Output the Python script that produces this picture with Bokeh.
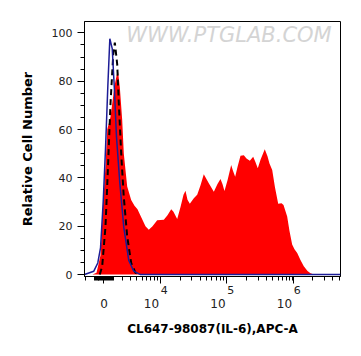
import numpy as np
from bokeh.plotting import figure
from bokeh.models import FixedTicker, Label, Range1d, LinearAxis
from bokeh.embed import file_html
from bokeh.resources import INLINE

# x values are in display (biexponential) units: 0 -> 3.15, 10^4 -> 4, 10^5 -> 5, 10^6 -> 6
red_x = [2.977, 3.038, 3.098, 3.138, 3.173, 3.199, 3.248, 3.274, 3.308, 3.358,
         3.388, 3.424, 3.448, 3.499, 3.559, 3.609, 3.654, 3.714, 3.774, 3.824,
         3.880, 3.950, 4.050, 4.105, 4.161, 4.195, 4.251, 4.301, 4.346, 4.376,
         4.406, 4.441, 4.501, 4.552, 4.602, 4.651, 4.722, 4.802, 4.857, 4.902,
         4.932, 4.962, 5.008, 5.063, 5.090, 5.123, 5.158, 5.203, 5.253, 5.293,
         5.343, 5.394, 5.429, 5.463, 5.504, 5.568, 5.609, 5.639, 5.680, 5.722,
         5.770, 5.820, 5.850, 5.905, 5.940, 5.980, 6.015, 6.056, 6.105, 6.155,
         6.211, 6.256, 6.305]
red_y = [0, 0.8, 8, 29.6, 45, 60, 65.2, 70.7, 78, 84.7,
         77.6, 63.9, 50.1, 36.4, 30.9, 28.5, 27, 23.5, 20, 18.5,
         20, 22.5, 22.7, 24.5, 27, 26, 23, 28, 33, 34.7,
         31, 29.3, 31.6, 33, 37, 41.5, 38, 34.3, 37.5, 39.5,
         37.5, 34.6, 39, 45.3, 43, 40.5, 44.5, 49.2, 49.4, 48,
         47.1, 48.7, 46.5, 44, 47.5, 51.8, 49, 46, 43.3, 36,
         29.3, 29.5, 28.8, 24, 18, 12.4, 10.5, 8.9, 6, 3.4,
         1.5, 0.5, 0]

blue_x = [2.857, 2.997, 3.057, 3.098, 3.138, 3.173, 3.208, 3.238, 3.274, 3.308,
          3.338, 3.388, 3.448, 3.523, 3.598, 3.699, 6.707]
blue_y = [0, 1.4, 4.8, 11, 30, 52, 78, 97.6, 93.5, 76,
          57, 38, 19.5, 5.8, 1.4, 0, 0]

dash_x = [3.087, 3.123, 3.173, 3.208, 3.248, 3.289, 3.313, 3.349, 3.373, 3.409,
          3.448, 3.499, 3.559, 3.624, 3.699]
dash_y = [0, 3.4, 20, 43, 70.7, 91, 96, 87, 70.7, 50,
          32, 15.8, 4.8, 0.7, 0]

x_major = [3.15, 4.0, 5.0, 6.0]
x_major_base = ["0", "10\u2003\u2002", "10\u2003\u2002", "10\u2003\u2002"]
x_major_exp = ["", "\u2002\u20094", "\u2002\u20095", "\u2002\u20096"]
y_major = [0, 20, 40, 60, 80, 100]

X_MIN, X_MAX = 2.857, 6.707
Y_MIN, Y_MAX = -0.8, 104.7


def disp(v):
    v = np.asarray(v, dtype=float)
    return 3.15 + np.arcsinh(v / 2880.0) / np.log(10)


raw_minor = []
for n in (2, 3):
    for k in range(1, 10):
        raw_minor.append(-k * 10 ** n)
for n in (2, 3, 4, 5, 6):
    for k in range(1, 10):
        raw_minor.append(k * 10 ** n)
x_minor = [float(t) for t in disp(raw_minor) if X_MIN <= t <= X_MAX]

p = figure(width=361, height=356, output_backend="svg", toolbar_location=None,
           x_range=Range1d(X_MIN, X_MAX), y_range=Range1d(Y_MIN, Y_MAX),
           min_border_left=84, min_border_right=21, min_border_top=21,
           min_border_bottom=80)
p.background_fill_color = "white"
p.border_fill_color = "white"
p.outline_line_color = "black"
p.outline_line_width = 1
p.grid.visible = False

p.varea(x=red_x, y1=[0] * len(red_x), y2=red_y, fill_color="#ff0000")
p.line(dash_x, dash_y, line_color="black", line_width=2, line_dash="6 4")
p.line(blue_x, blue_y, line_color="#1c1c96", line_width=1.5)

wm = Label(x=5.03, y=99.0, text="WWW.PTGLAB.COM", text_align="center",
           text_baseline="middle", text_font="DejaVu Sans",
           text_font_size="21px", text_font_style="italic",
           text_color="#d4d4d4")
p.add_layout(wm)

# first x axis: ticks + exponents
xa = p.xaxis[0]
xa.ticker = FixedTicker(ticks=x_major, minor_ticks=x_minor)
xa.major_label_overrides = {t: l for t, l in zip(x_major, x_major_exp)}
xa.major_label_text_font = "DejaVu Sans"
xa.major_label_text_font_size = "11px"
xa.major_label_text_color = "#222222"
xa.major_label_standoff = 0
xa.major_tick_out = 7
xa.major_tick_in = 0
xa.minor_tick_out = 4
xa.minor_tick_in = 0
xa.axis_line_color = "black"
xa.major_tick_line_color = "black"
xa.minor_tick_line_color = "black"

# second x axis: base labels + axis title
xb = LinearAxis(ticker=FixedTicker(ticks=x_major, minor_ticks=[]))
xb.major_label_overrides = {t: l for t, l in zip(x_major, x_major_base)}
xb.major_label_text_font = "DejaVu Sans"
xb.major_label_text_font_size = "12px"
xb.major_label_text_color = "#222222"
xb.major_label_standoff = -3
xb.major_tick_out = 0
xb.major_tick_in = 0
xb.minor_tick_out = 0
xb.minor_tick_in = 0
xb.axis_line_color = None
xb.major_tick_line_color = None
xb.minor_tick_line_color = None
xb.axis_label = "CL647-98087(IL-6),APC-A"
xb.axis_label_text_font = "DejaVu Sans"
xb.axis_label_text_font_style = "bold"
xb.axis_label_text_font_size = "12px"
xb.axis_label_text_color = "black"
xb.axis_label_standoff = 8
p.add_layout(xb, "below")

ya = p.yaxis[0]
ya.ticker = FixedTicker(ticks=y_major, minor_ticks=list(range(0, 101, 5)))
ya.axis_label = "Relative Cell Number"
ya.axis_label_text_font = "DejaVu Sans"
ya.axis_label_text_font_style = "bold"
ya.axis_label_text_font_size = "13px"
ya.axis_label_text_color = "black"
ya.axis_label_standoff = 14
ya.major_label_text_font = "DejaVu Sans"
ya.major_label_text_font_size = "11px"
ya.major_label_text_color = "#222222"
ya.major_label_standoff = 5
ya.major_tick_out = 7
ya.major_tick_in = 0
ya.minor_tick_out = 4
ya.minor_tick_in = 0
ya.axis_line_color = "black"

open("out.html", "w").write(file_html(p, INLINE))
